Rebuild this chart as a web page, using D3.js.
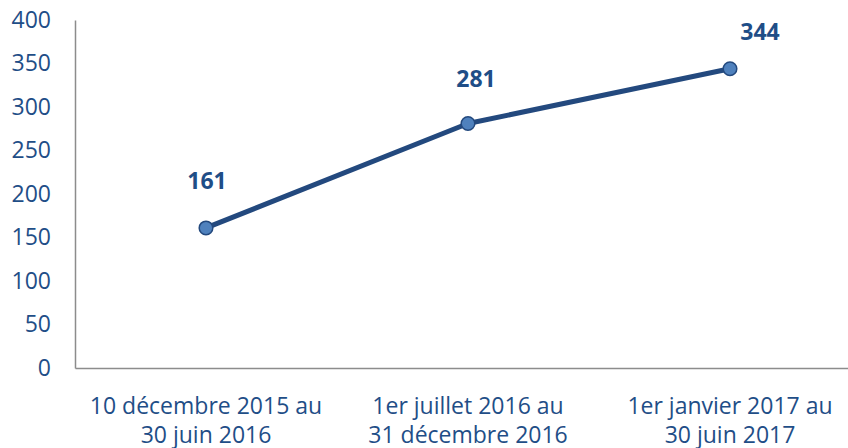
<!DOCTYPE html>
<html>
<head>
<meta charset="utf-8">
<script src="https://cdn.jsdelivr.net/npm/d3@7"></script>
<style>
  body { margin: 0; background: #fff; }
  text { font-family: "Open Sans", sans-serif; }
</style>
</head>
<body>
<div id="chart"></div>
<script>
var categories = [
  ["10 décembre 2015 au", "30 juin 2016"],
  ["1er juillet 2016 au", "31 décembre 2016"],
  ["1er janvier 2017 au", "30 juin 2017"]
];
var values = [161, 281, 344];
var yTicks = [0, 50, 100, 150, 200, 250, 300, 350, 400];

var width = 848, height = 448;
var textColor = "#1f4e87";
var lineColor = "#23497e";

var svg = d3.select("#chart").append("svg")
  .attr("width", width)
  .attr("height", height);

var x = d3.scaleBand()
  .domain(d3.range(categories.length))
  .range([75, 861]);
var y = d3.scaleLinear()
  .domain([0, 400])
  .range([368, 20]);

// y axis
var yAxis = svg.append("g")
  .attr("transform", "translate(75,0)")
  .call(d3.axisLeft(y).tickValues(yTicks).tickSize(0).tickPadding(24));
yAxis.select(".domain").attr("stroke", "#8c8c8c").attr("stroke-width", 1.5);
yAxis.selectAll("text")
  .attr("fill", textColor)
  .style("font-size", "23px")
  .style("font-family", "Open Sans");

// x axis
var xAxis = svg.append("g")
  .attr("transform", "translate(0,368)")
  .call(d3.axisBottom(x).tickSize(0).tickFormat(""));
xAxis.select(".domain").attr("stroke", "#8c8c8c").attr("stroke-width", 1.5);
xAxis.selectAll(".tick").each(function (d) {
  var t = d3.select(this).select("text")
    .attr("fill", textColor)
    .attr("y", 0)
    .attr("dy", null)
    .style("font-size", "23px")
    .style("font-family", "Open Sans");
  categories[d].forEach(function (line, i) {
    t.append("tspan")
      .attr("x", 0)
      .attr("y", 46 + i * 29)
      .text(line);
  });
});

var cx = function (d, i) { return x(i) + x.bandwidth() / 2; };

svg.append("path")
  .datum(values)
  .attr("fill", "none")
  .attr("stroke", lineColor)
  .attr("stroke-width", 5)
  .attr("stroke-linejoin", "round")
  .attr("d", d3.line().x(cx).y(function (d) { return y(d); }));

svg.selectAll(".dot")
  .data(values)
  .enter()
  .append("circle")
    .attr("class", "dot")
    .attr("cx", cx)
    .attr("cy", function (d) { return y(d); })
    .attr("r", 6.8)
    .attr("fill", "#4f81bd")
    .attr("stroke", lineColor)
    .attr("stroke-width", 1.5);

// label placement (shifted like in the original)
var labelDx = [1, 8, 30],
    labelDy = [-39, -37, -29];
svg.selectAll(".val")
  .data(values)
  .enter()
  .append("text")
    .attr("class", "val")
    .attr("x", function (d, i) { return cx(d, i) + labelDx[i]; })
    .attr("y", function (d, i) { return y(d) + labelDy[i]; })
    .attr("text-anchor", "middle")
    .attr("fill", textColor)
    .style("font-size", "23px")
    .style("font-weight", "bold")
    .text(function (d) { return d; });
</script>
</body>
</html>
